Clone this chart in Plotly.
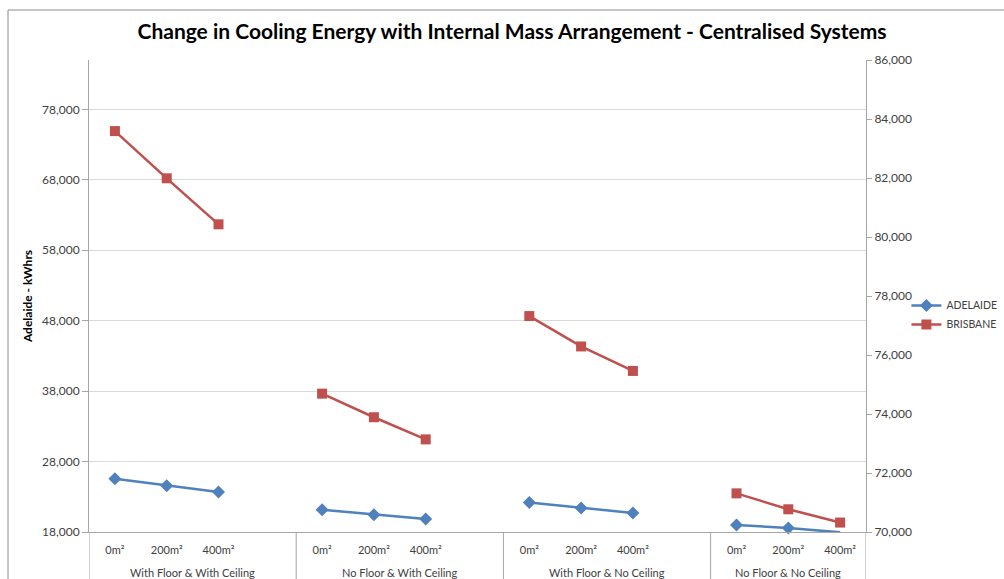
import plotly.graph_objects as go

# Internal mass arrangements (x-axis groups) and internal mass areas (sub-categories)
GROUPS = [
    "With Floor & With Ceiling",
    "No Floor & With Ceiling",
    "With Floor & No Ceiling",
    "No Floor & No Ceiling",
]
AREAS = ["0m²", "200m²", "400m²"]

# Cooling energy (kWhrs) per group, in AREAS order
ADELAIDE = [
    [25560, 24570, 23670],
    [21160, 20450, 19840],
    [22200, 21400, 20700],
    [19000, 18570, 17950],
]
BRISBANE = [
    [83590, 81990, 80430],
    [74690, 73890, 73140],
    [77320, 76290, 75460],
    [71310, 70770, 70320],
]

LEFT_RANGE = [18000, 85000]
RIGHT_RANGE = [70000, 86000]

BLUE = "#4F81BD"
RED = "#C0504D"
AXIS_GREY = "#A6A6A6"
GRID_GREY = "#D9D9D9"
TEXT = "#404040"
FONT = "Lato"

SLOTS_PER_GROUP = len(AREAS) + 1  # one empty slot separates neighbouring groups


def build_series(values):
    """Place each group's points on consecutive category slots, with an empty
    slot (None) after every group except the last so the line breaks."""
    xs, ys = [], []
    for gi, vals in enumerate(values):
        for j, v in enumerate(vals):
            xs.append(gi * SLOTS_PER_GROUP + j)
            ys.append(v)
        if gi < len(values) - 1:
            xs.append(gi * SLOTS_PER_GROUP + len(vals))
            ys.append(None)
    return xs, ys


x_ad, y_ad = build_series(ADELAIDE)
x_br, y_br = build_series(BRISBANE)

tick_vals = [gi * SLOTS_PER_GROUP + j for gi in range(len(GROUPS)) for j in range(len(AREAS))]
tick_text = AREAS * len(GROUPS)
x_min = -0.5
x_max = (len(GROUPS) - 1) * SLOTS_PER_GROUP + len(AREAS) - 0.5

fig = go.Figure()
fig.add_trace(go.Scatter(
    x=x_ad, y=y_ad, name="ADELAIDE", mode="lines+markers",
    line=dict(color=BLUE, width=2.5),
    marker=dict(symbol="diamond", size=10, color=BLUE),
    connectgaps=False, cliponaxis=False, yaxis="y",
))
fig.add_trace(go.Scatter(
    x=x_br, y=y_br, name="BRISBANE", mode="lines+markers",
    line=dict(color=RED, width=2.5),
    marker=dict(symbol="square", size=10, color=RED),
    connectgaps=False, cliponaxis=False, yaxis="y2",
))

fig.update_layout(
    width=1004, height=579,
    margin=dict(l=89, r=138, t=60, b=47, autoexpand=False),
    paper_bgcolor="white", plot_bgcolor="white",
    font=dict(family=FONT, size=12, color=TEXT),
    title=dict(
        text="<b>Change in Cooling Energy with Internal Mass Arrangement - Centralised Systems</b>",
        x=0.51, xanchor="center", y=0.945, yanchor="middle",
        font=dict(family=FONT, size=21, color="#000000"),
    ),
    xaxis=dict(
        range=[x_min, x_max],
        tickmode="array", tickvals=tick_vals, ticktext=tick_text,
        showline=True, linecolor=AXIS_GREY, linewidth=1,
        showgrid=False, zeroline=False, ticks="",
        ticklabelstandoff=8,
        tickfont=dict(family=FONT, size=11, color=TEXT),
    ),
    yaxis=dict(
        range=LEFT_RANGE, tick0=18000, dtick=10000, tickformat=",d",
        showline=True, linecolor=AXIS_GREY, linewidth=1,
        showgrid=True, gridcolor=GRID_GREY, gridwidth=1,
        ticks="outside", ticklen=6, tickcolor=AXIS_GREY,
        zeroline=False,
        tickfont=dict(family=FONT, size=12, color=TEXT),
        title=dict(text="<b>Adelaide - kWhrs</b>", standoff=6,
                   font=dict(family=FONT, size=12, color="#000000")),
    ),
    yaxis2=dict(
        range=RIGHT_RANGE, tick0=70000, dtick=2000, tickformat=",d",
        overlaying="y", side="right",
        showline=True, linecolor=AXIS_GREY, linewidth=1,
        showgrid=False, zeroline=False,
        ticks="outside", ticklen=5, tickcolor=AXIS_GREY,
        tickfont=dict(family=FONT, size=12, color=TEXT),
    ),
    legend=dict(
        x=1.052, xanchor="left", y=0.46, yanchor="middle",
        bgcolor="rgba(0,0,0,0)", borderwidth=0,
        font=dict(family=FONT, size=10.5, color=TEXT),
        itemwidth=30, tracegroupgap=4,
    ),
    showlegend=True,
)

# Group labels under the area ticks, and dividers between groups
for gi, group in enumerate(GROUPS):
    start = gi * SLOTS_PER_GROUP - 0.5
    end = min(start + SLOTS_PER_GROUP, x_max)
    fig.add_annotation(
        x=(start + end) / 2, xref="x", y=0, yref="paper",
        yshift=-40, yanchor="middle", showarrow=False,
        text=group, font=dict(family=FONT, size=11, color=TEXT),
    )
    fig.add_shape(
        type="line", xref="x", yref="paper",
        x0=start, x1=start, y0=0, y1=-0.2,
        line=dict(color=AXIS_GREY, width=1),
    )
fig.add_shape(
    type="line", xref="x", yref="paper",
    x0=x_max, x1=x_max, y0=0, y1=-0.2,
    line=dict(color=AXIS_GREY, width=1),
)

# Chart outline frame
fig.add_shape(
    type="rect", xref="paper", yref="paper",
    x0=(8 - 89) / 777, x1=1.25, y0=-0.3, y1=(532 - 10) / 472,
    line=dict(color="#8C8C8C", width=1), fillcolor="rgba(0,0,0,0)",
    layer="below",
)

fig.write_html("out.html")
